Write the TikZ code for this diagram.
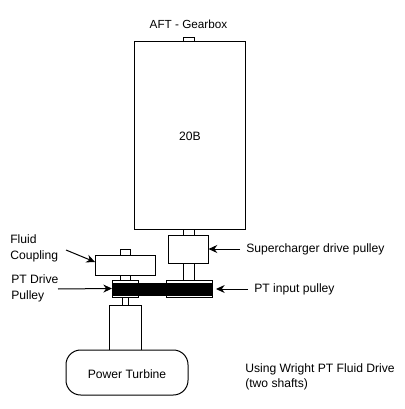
\documentclass[tikz,border=0pt]{standalone}
\usepackage{fontspec}
\setmainfont{Liberation Sans}
\usepackage{xcolor}
\usetikzlibrary{arrows.meta, positioning}
\tikzset{
  every picture/.style={>=Stealth},
  caja/.style 2 args={draw=black, fill=white, line width=0.75pt, inner sep=0pt, outer sep=0pt,
              minimum width=#1*0.75pt, minimum height=#2*0.75pt},
  correa/.style={fill=black, inner sep=0pt, outer sep=0pt, minimum width=100*0.75pt, minimum height=13*0.75pt},
  turbina/.style={caja={122}{45}, rounded corners=11pt},
  rotulo/.style={font=\fontsize{9.1}{11.7}\selectfont, text=black, inner sep=0pt, align=left},
  flecha/.style={-{Stealth[length=6.5pt, width=6pt]}, line width=0.75pt},
}
\begin{document}
\begin{tikzpicture}[x=0.75pt, y=-0.75pt]
  \useasboundingbox[fill=white] (0,0) rectangle (404,409);
  % gearbox
  \node[caja={11}{4}] (stubT) at (188.5,40) {};
  \node[caja={111}{187}] (gear) at (190.2,135.5) {};
  \node[rotulo] (gearTxt) at (190,136) {20B};
  \node[rotulo, font=\fontsize{8.8}{11.25}\selectfont, anchor=base] (aft) at (188.5,29) {AFT - Gearbox};
  % right hand shaft
  \node[caja={11}{6}] (shaftA) at (188.5,232) {};
  \node[caja={40.5}{28}] (super) at (188.3,249) {};
  \node[caja={11}{17}] (shaftB) at (188.5,271.5) {};
  \node[caja={46}{17}] (ptIn) at (189,288.5) {};
  % left hand shaft
  \node[caja={10}{6}] (stubC) at (125,252) {};
  \node[caja={60}{20}] (coup) at (125,265) {};
  \node[caja={10}{5}] (shaftC) at (125,277.5) {};
  \node[caja={26}{17}] (ptDr) at (125,288.5) {};
  \node[caja={6}{8}] (shaftD) at (125,301) {};
  \node[caja={32}{45}] (col) at (125,327.5) {};
  \node[turbina] (pt) at (127,372.5) {};
  \node[rotulo] (ptTxt) at (127,374.5) {Power Turbine};
  % belt
  \node[correa] (belt) at (162,289.5) {};
  % labels
  \node[rotulo, anchor=west] (fcTxt) at (10,248.5) {Fluid\\Coupling};
  \node[rotulo, anchor=west] (pdTxt) at (11,288.5) {PT Drive\\Pulley};
  \node[rotulo, anchor=west] (scTxt) at (246,249.5) {Supercharger drive pulley};
  \node[rotulo, anchor=west] (piTxt) at (254,289) {PT input pulley};
  \node[rotulo, anchor=west] (noteTxt) at (245,377) {Using Wright PT Fluid Drive\\(two shafts)};
  \coordinate (fcEnd) at (66,250);
  \coordinate (fcTip) at (95,262);
  \coordinate (pdEnd) at (58,289);
  \coordinate (scEnd) at (240,249);
  \coordinate (piEnd) at (248,289);
  \coordinate (piTip) at (216,289);
  \draw[flecha] (fcEnd) -- (fcTip);
  \draw[flecha] (pdEnd) -- (ptDr.west);
  \draw[flecha] (scEnd) -- (super.east);
  \draw[flecha] (piEnd) -- (piTip);
\end{tikzpicture}
\end{document}
